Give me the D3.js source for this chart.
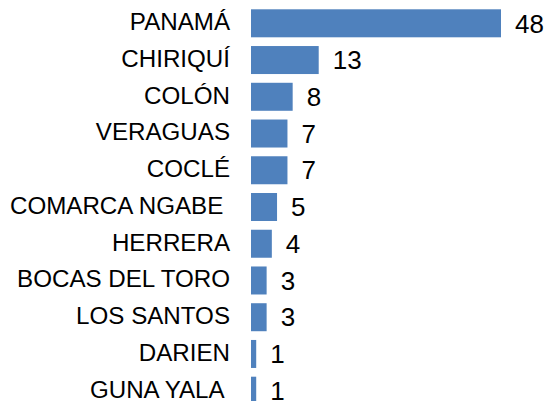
<!DOCTYPE html>
<html>
<head>
<meta charset="utf-8">
<script src="https://cdn.jsdelivr.net/npm/d3@7"></script>
<style>
  html, body { margin: 0; padding: 0; background: #ffffff; }
  svg { display: block; }
  text { font-family: "Liberation Sans", Arial, sans-serif; fill: #000; white-space: pre; }
</style>
</head>
<body>
<div id="chart"></div>
<script>
const categories = ["PANAMÁ", "CHIRIQUÍ", "COLÓN", "VERAGUAS", "COCLÉ", "COMARCA NGABE ", "HERRERA", "BOCAS DEL TORO", "LOS SANTOS", "DARIEN", "GUNA YALA "];
const values = [48, 13, 8, 7, 7, 5, 4, 3, 3, 1, 1];

const width = 549, height = 401;
const data = categories.map((c, i) => ({ cat: c, val: values[i] }));

const svg = d3.select("#chart").append("svg")
  .attr("width", width).attr("height", height);

const x = d3.scaleLinear().domain([0, 48]).range([251, 501]);
const y = d3.scaleBand().domain(categories)
  .range([4.93, 409.07]).paddingInner(0.238).paddingOuter(0.119);

svg.append("g").selectAll("rect").data(data).join("rect")
  .attr("x", x(0))
  .attr("y", d => y(d.cat))
  .attr("width", d => x(d.val) - x(0))
  .attr("height", y.bandwidth())
  .attr("fill", "#4F81BD");

svg.append("g").selectAll("text").data(data).join("text")
  .attr("transform", d => `translate(230,${y(d.cat) + y.bandwidth() / 2 + 6.8}) scale(1.05,1)`)
  .attr("text-anchor", "end")
  .style("font-size", "23px")
  .text(d => d.cat);

svg.append("g").selectAll("text").data(data).join("text")
  .attr("transform", d => `translate(${x(d.val) + 14},${y(d.cat) + y.bandwidth() / 2 + 9.2}) scale(1.04,1)`)
  .attr("text-anchor", "start")
  .style("font-size", "25px")
  .text(d => d.val);
</script>
</body>
</html>
